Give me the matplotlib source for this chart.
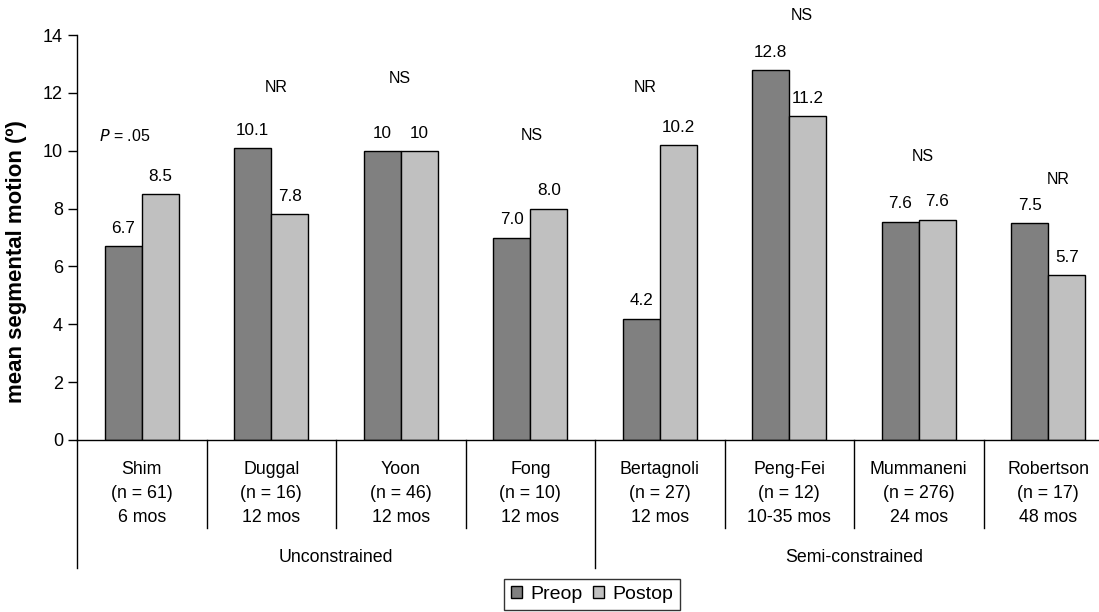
import matplotlib
matplotlib.use("Agg")
import matplotlib.pyplot as plt
from matplotlib.patches import Patch
import numpy as np

# ---- data ----
studies = ["Shim", "Duggal", "Yoon", "Fong", "Bertagnoli", "Peng-Fei", "Mummaneni", "Robertson"]
n_patients = ["61", "16", "46", "10", "27", "12", "276", "17"]
follow_up = ["6 mos", "12 mos", "12 mos", "12 mos", "12 mos", "10-35 mos", "24 mos", "48 mos"]
preop = [6.7, 10.1, 10.0, 7.0, 4.2, 12.8, 7.55, 7.5]
postop = [8.5, 7.8, 10.0, 8.0, 10.2, 11.2, 7.62, 5.7]
preop_labels = ["6.7", "10.1", "10", "7.0", "4.2", "12.8", "7.6", "7.5"]
postop_labels = ["8.5", "7.8", "10", "8.0", "10.2", "11.2", "7.6", "5.7"]
significance = ["P = .05", "NR", "NS", "NS", "NR", "NS", "NS", "NR"]
groups = ["Unconstrained", "Semi-constrained"]
group_sizes = [4, 4]
yticks = [0, 2, 4, 6, 8, 10, 12, 14]

# annotation placement (positions, not data)
sig_x = [-0.13, 1.04, 1.99, 3.01, 3.89, 5.10, 6.03, 7.08]
sig_y = [10.52, 12.17, 12.51, 10.51, 12.17, 14.67, 9.79, 8.99]

plt.rcParams['font.family'] = ['Liberation Sans', 'DejaVu Sans']

fig = plt.figure(figsize=(10.99, 6.12), dpi=100)
ax = fig.add_axes([77/1099, 172/612, 1036/1099, 405/612])

x = np.arange(len(studies))
w = 0.286
ax.bar(x - w/2, preop, w, color="#808080", edgecolor="black", linewidth=1.0, label="Preop")
ax.bar(x + w/2, postop, w, color="#C0C0C0", edgecolor="black", linewidth=1.0, label="Postop")

for xi, v, t in zip(x - w/2, preop, preop_labels):
    ax.annotate(t, (xi, v), xytext=(0, 9.5), textcoords="offset points",
                ha="center", va="baseline", fontsize=12.3)
for xi, v, t in zip(x + w/2, postop, postop_labels):
    ax.annotate(t, (xi, v), xytext=(0, 9.5), textcoords="offset points",
                ha="center", va="baseline", fontsize=12.3)

for s, sx, sy in zip(significance, sig_x, sig_y):
    if s.startswith("P"):
        ax.text(sx, sy, r"$\it{P}$" + s[1:], ha="center", va="center", fontsize=11.5)
    else:
        ax.text(sx, sy, s, ha="center", va="center", fontsize=11.5)

ax.set_xlim(-0.5, len(studies) - 0.5)
ax.set_ylim(0, 14)
ax.set_yticks(yticks)
ax.tick_params(axis="y", labelsize=13, direction="out", length=6.5, width=1, pad=3.5)
ax.set_xticks([])
ax.spines["top"].set_visible(False)
ax.spines["right"].set_visible(False)
ax.spines["left"].set_linewidth(1)
ax.spines["bottom"].set_linewidth(1)
ax.set_ylabel("mean segmental motion (º)", fontsize=16, fontweight="bold")
ax.yaxis.set_label_coords(-50/1036, (440 - 262) / 405)

trans = ax.get_xaxis_transform()
cat_fs = 12.8
for i, (s, n, f) in enumerate(zip(studies, n_patients, follow_up)):
    ax.text(i, -29/405, s, transform=trans, ha="center", va="center", fontsize=cat_fs, clip_on=False)
    ax.text(i, -53.6/405, f"(n = {n})", transform=trans, ha="center", va="center", fontsize=cat_fs, clip_on=False)
    ax.text(i, -77.5/405, f, transform=trans, ha="center", va="center", fontsize=cat_fs, clip_on=False)

# separators
bounds = np.cumsum([0] + group_sizes) - 0.5
for k in range(len(studies) + 1):
    xb = k - 0.5
    y0 = -127.5/405 if xb in bounds else -88/405
    ax.plot([xb, xb], [0, y0], transform=trans, color="black", lw=1, clip_on=False)

start = 0
for g, sz in zip(groups, group_sizes):
    cx = start + (sz - 1) / 2
    ax.text(cx, -117/405, g, transform=trans, ha="center", va="center", fontsize=cat_fs, clip_on=False)
    start += sz

leg = fig.legend(handles=[Patch(facecolor="#808080", edgecolor="black", label="Preop"),
                          Patch(facecolor="#C0C0C0", edgecolor="black", label="Postop")],
                 loc="upper center", bbox_to_anchor=(592/1099, 1 - 579/612), ncol=2, fontsize=14,
                 frameon=True, fancybox=False, edgecolor="black", handlelength=0.57,
                 handleheight=0.57, handletextpad=0.45, columnspacing=0.5, borderpad=0.35,
                 borderaxespad=0)
leg.get_frame().set_linewidth(1)

fig.savefig("out.png", dpi=100)
